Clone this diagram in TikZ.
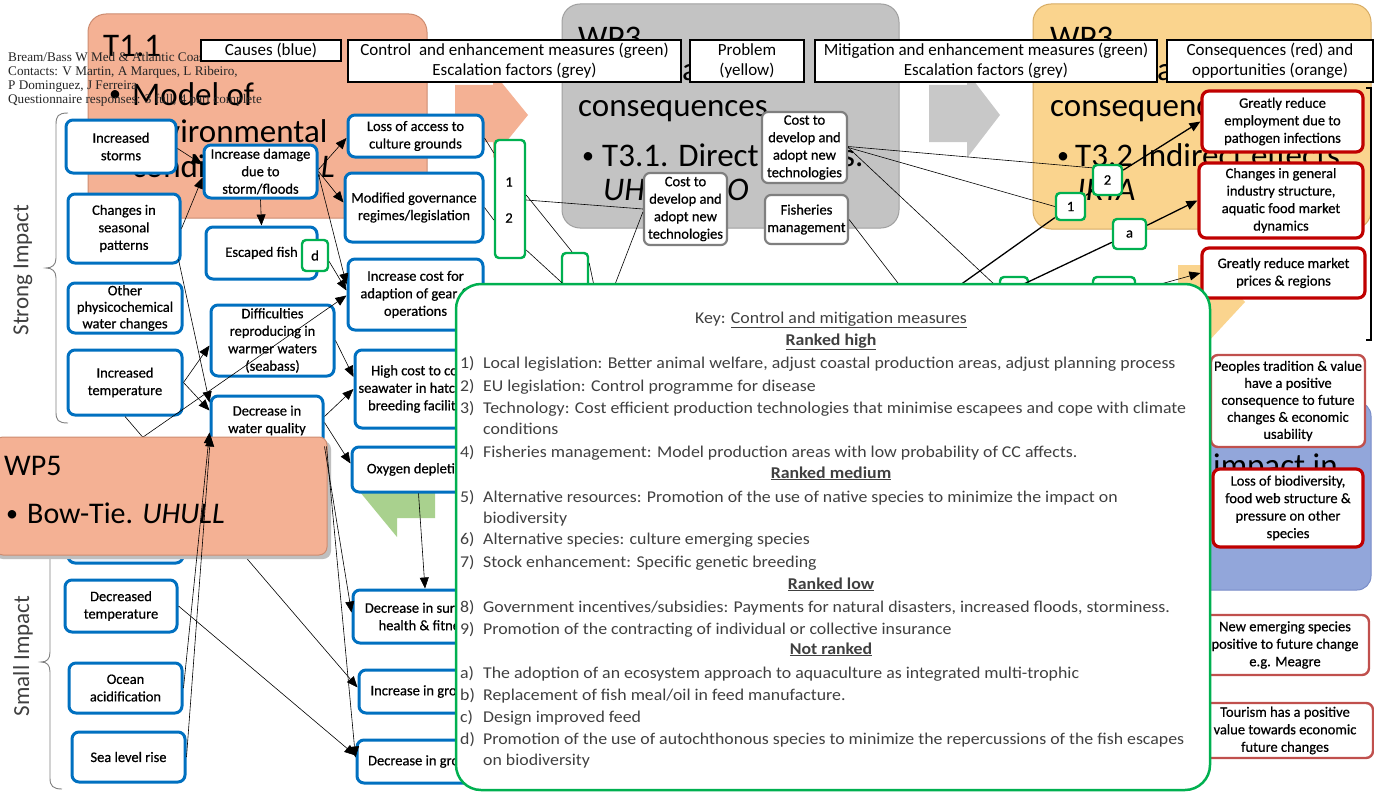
\documentclass[tikz,border=0pt]{standalone}
\usepackage{fontspec}
\setmainfont{Carlito}
\newfontfamily\notefont{Liberation Serif}
\newfontfamily\keyfont[FakeStretch=1.08]{Carlito}
\newfontfamily\nodefont[FakeBold=0.6]{Carlito}
\usetikzlibrary{arrows.meta,calc}
\definecolor{cblue}{RGB}{0,112,192}
\definecolor{cred}{RGB}{192,0,0}
\definecolor{cora}{RGB}{192,80,77}
\definecolor{cgreen}{RGB}{0,176,80}
\definecolor{cgrey}{RGB}{127,127,127}
\definecolor{salmon}{RGB}{244,177,148}
\definecolor{salmonb}{RGB}{205,140,112}
\definecolor{slgrey}{RGB}{195,195,195}
\definecolor{slgreyb}{RGB}{160,160,160}
\definecolor{slora}{RGB}{250,212,142}
\definecolor{slorab}{RGB}{215,172,100}
\definecolor{slblue}{RGB}{146,166,218}
\definecolor{slblueb}{RGB}{120,140,200}
\definecolor{arrgreen}{RGB}{169,209,142}
\definecolor{arrgrey}{RGB}{200,200,200}
\definecolor{keytext}{RGB}{64,64,64}
\definecolor{lightfill}{RGB}{234,242,251}
\begin{document}
\begin{tikzpicture}[x=1pt,y=-1pt,
  nbox/.style={rectangle, rounded corners=7pt, fill=white, align=center, inner sep=1pt, text=black, font=\nodefont\fontsize{14.5}{17.5}\selectfont},
  cause/.style={nbox, draw=cblue, line width=3pt},
  cons/.style={nbox, draw=cred, line width=3.2pt},
  opp/.style={nbox, draw=cora, line width=2.4pt},
  esc/.style={nbox, draw=cgrey, line width=2.2pt, rounded corners=6pt},
  gbox/.style={nbox, draw=cgreen, line width=2.4pt, rounded corners=4pt},
  hdr/.style={rectangle, draw=black, line width=1.6pt, fill=white, align=center, inner sep=0pt, font=\fontsize{17}{20}\selectfont},
  wh/.style 2 args={minimum width=#1pt, minimum height=#2pt},
  conn/.style={draw=black, line width=0.6pt},
  arr/.style={conn, -{Triangle[length=11pt,width=9pt]}},
  thk/.style={draw=black, line width=1.3pt},
  thkarr/.style={thk, -{Triangle[length=11pt,width=9pt]}},
  big/.style={inner sep=0pt, anchor=base west, font=\fontsize{33}{40}\selectfont},
  bul/.style={inner sep=0pt, anchor=base west, font=\fontsize{24}{28}\selectfont},
  note/.style={inner sep=0pt, anchor=base west, font=\notefont\fontsize{13.2}{15}\selectfont, text=black!85},
  keyl/.style={inner sep=0pt, anchor=base west, font=\keyfont\fontsize{16.5}{19}\selectfont, text=keytext},
  keyh/.style={inner sep=0pt, anchor=base, font=\keyfont\fontsize{16.5}{19}\selectfont\bfseries, text=keytext},
  lbl/.style={inner sep=0pt, font=\nodefont\fontsize{14.5}{17}\selectfont},
]
\useasboundingbox (0,0) rectangle (1374,792);
\fill[white] (0,0) rectangle (1374,792);

% ---------- background slides ----------
\draw[fill=salmon, draw=salmonb, line width=1pt, rounded corners=18pt] (88,14) rectangle (427,218);
\fill[salmon] (455,85) -- (493,85) -- (493,72) -- (528,115) -- (493,158) -- (493,142) -- (455,142) -- cycle;
\draw[fill=slgrey, draw=slgreyb, line width=1pt, rounded corners=18pt] (562,4) rectangle (899,228);
\fill[arrgrey] (929,85) -- (967,85) -- (967,72) -- (1000,115) -- (967,158) -- (967,142) -- (929,142) -- cycle;
\draw[fill=slora, draw=slorab, line width=1pt, rounded corners=18pt] (1033,4) rectangle (1371,229);
\draw[fill=slblue, draw=slblueb, line width=1pt, rounded corners=14pt] (1150,402) rectangle (1371,590);
\fill[slora] (1178,265) -- (1205,265) -- (1205,258) -- (1245,302) -- (1207,343) -- (1207,335) -- (1178,335) -- cycle;

% slide texts
\node[big] (t11) at (103,57) {T1.1};
\node[bul] (t11b) at (109,102) {\textbullet};
\node[big] (t11c) at (132,105) {Model of};
\node[big] (t11d) at (132,142) {environmental};
\node[big] (t11e) at (132,177) {conditions.};
\node[big, anchor=base east] (t11f) at (335,177) {\itshape UHULL};
\node[big] (w3a) at (578,49) {WP3};
\node[big] (w3b) at (682,81) {a};
\node[big] (w3c) at (578,117) {consequences};
\node[bul] (w3d) at (582,163) {\textbullet};
\node[big] (w3e) at (602,166) {T3.1. Direct effects.};
\node[big] (w3f) at (603,200) {\itshape UH};
\node[big] (w3g) at (727,200) {\itshape O};
\node[big] (w4a) at (1050,49) {WP3};
\node[big] (w4b) at (1157,81) {a};
\node[big] (w4c) at (1050,117) {consequences};
\node[bul] (w4d) at (1057,163) {\textbullet};
\node[big] (w4e) at (1075,166) {T3.2 Indirect effects.};
\node[big] (w4f) at (1077,200) {\itshape IRTA};
\node[big] (w6a) at (1213,476) {impact in};

% note
\node[note] (n1) at (8,62) {Bream/Bass W Med \& Atlantic Coast};
\node[note] (n2) at (8,76) {Contacts: V Martin, A Marques, L Ribeiro,};
\node[note] (n3) at (8,89) {P Dominguez, J Ferreira};
\node[note] (n4) at (8,103) {Questionnaire responses: 3 full, 4 part complete};

% braces and side labels
\draw[line width=0.9pt, draw=black!50] (68,113) .. controls (58,113) and (56,116) .. (56,125) -- (56,258) .. controls (56,265) and (52,268) .. (46,268) .. controls (52,268) and (56,271) .. (56,278) -- (56,412) .. controls (56,420) and (58,423) .. (68,423);
\draw[line width=0.9pt, draw=black!50] (62,535) .. controls (53,535) and (50,538) .. (50,547) -- (50,652) .. controls (50,659) and (47,662) .. (41,662) .. controls (47,662) and (50,665) .. (50,672) -- (50,778) .. controls (50,786) and (53,789) .. (62,789);
\node[rotate=90, inner sep=0pt, font=\fontsize{23}{27}\selectfont, text=black!75] (strong) at (23,270) {Strong Impact};
\node[rotate=90, inner sep=0pt, font=\fontsize{23}{27}\selectfont, text=black!75] (small) at (23,656) {Small Impact};

% green block shape
\fill[arrgreen] (360,492) -- (435,492) -- (435,518) -- (397,518) -- (397,537) -- cycle;

% ---------- nodes ----------
\node[cause, wh={110}{53}] (storms) at (121,146.5) {Increased\\storms};
\node[cause, wh={112}{69}] (seasonal) at (124,228.5) {Changes in\\seasonal\\patterns};
\node[cause, wh={114}{50}, font=\nodefont\fontsize{14.5}{16.5}\selectfont] (physchem) at (125,308) {Other\\physicochemical\\water changes};
\node[cause, wh={114}{65}] (inctemp) at (125,382.5) {Increased\\temperature};
\node[cause, fill=lightfill, wh={115}{63}] (hidden) at (125.5,531.5) {};
\node[cause, wh={112}{52}] (dectemp) at (121,606) {Decreased\\temperature};
\node[cause, wh={113}{50}] (ocean) at (125.5,688) {Ocean\\acidification};
\node[cause, wh={113}{50}] (sealevel) at (128.5,757) {Sea level rise};

\node[cause, wh={113}{53}] (dmg) at (260.5,171.5) {Increase damage\\due to\\storm/floods};
\node[cause, wh={111}{52}] (escaped) at (261.5,253) {Escaped fish};
\node[gbox, wh={26}{31}] (dbox) at (315,255.5) {d};
\node[cause, wh={123}{71}] (diff) at (272.5,340.5) {Difficulties\\reproducing in\\warmer waters\\(seabass)};
\node[cause, wh={112}{49}] (waterq) at (267,420.5) {Decrease in\\water quality};

\node[cause, wh={135}{42}] (loss) at (415.5,136) {Loss of access to\\culture grounds};
\node[cause, wh={138}{69}] (modgov) at (414,207.5) {Modified governance\\regimes/legislation};
\node[cause, wh={135}{71}] (inccost) at (415.5,294.5) {Increase cost for\\adaption of gear \&\\operations};
\node[cause, wh={130}{78}] (highcost) at (420,389) {High cost to cool\\seawater in hatchery\\breeding facilities};
\node[cause, wh={133}{45}] (oxygen) at (418.5,469.5) {Oxygen depletion};
\node[cause, wh={144}{53}] (decsurv) at (425,616.5) {Decrease in survival,\\health \& fitness};
\node[cause, wh={132}{43}] (incgrowth) at (425,691.5) {Increase in growth};
\node[cause, wh={136}{43}] (decgrowth) at (425,761.5) {Decrease in growth};

\node[esc, wh={83}{72}] (costL) at (685.5,209) {Cost to\\develop and\\adopt new\\technologies};
\node[esc, wh={85}{71}] (costR) at (804.5,147.5) {Cost to\\develop and\\adopt new\\technologies};
\node[esc, wh={83}{49}] (fish) at (806.5,219.5) {Fisheries\\management};

\node[gbox, wh={30}{118}] (g12) at (510,199) {};
\node[lbl] (g12a) at (509,182) {1};
\node[lbl] (g12b) at (509,218) {2};
\node[gbox, wh={26}{60}] (g3) at (575,283) {};
\node[gbox, wh={29}{30}] (g2) at (1107.5,180) {2};
\node[gbox, wh={29}{27}] (g1) at (1070.5,206.5) {1};
\node[gbox, wh={33}{30}] (ga) at (1129.5,234) {a};
\node[gbox, wh={28}{30}] (gk1) at (1014,292) {};
\node[gbox, wh={42}{30}] (gk2) at (1114,292) {};

\node[cons, wh={161}{61}] (employ) at (1282.5,121.5) {Greatly reduce\\employment due to\\pathogen infections};
\node[cons, wh={164}{75}] (changes) at (1281,200.5) {Changes in general\\industry structure,\\aquatic food market\\dynamics};
\node[cons, wh={163}{50}] (market) at (1283.5,273) {Greatly reduce market\\prices \& regions};
\node[cons, wh={150}{78}] (lossbio) at (1288,508) {Loss of biodiversity,\\food web structure \&\\pressure on other\\species};
\node[opp, wh={154}{92}, font=\nodefont\fontsize{14.5}{17}\selectfont] (peoples) at (1288,401) {Peoples tradition \& value\\have a positive\\consequence to future\\changes \& economic\\usability};
\node[opp, wh={168}{60}] (newspec) at (1285,645) {New emerging species\\positive to future change\\e.g. Meagre};
\node[opp, wh={176}{55}] (tourism) at (1285,730.5) {Tourism has a positive\\value towards economic\\future changes};

% headers
\node[hdr, wh={140}{21}] (hcauses) at (271,50.5) {Causes (blue)};
\node[hdr, wh={333}{42}] (hcontrol) at (514.5,61) {Control~ and enhancement measures (green)\\Escalation factors (grey)};
\node[hdr, wh={114}{42}] (hproblem) at (747,61) {Problem\\(yellow)};
\node[hdr, wh={342}{42}] (hmitig) at (986,61) {Mitigation and enhancement measures (green)\\Escalation factors (grey)};
\node[hdr, wh={206}{42}] (hcons) at (1270,61) {Consequences (red) and\\opportunities (orange)};
\draw[line width=1.8pt] (1366,88) -- (1371,88) -- (1371,340) -- (1366,340);

% ---------- connectors under WP5 ----------
\coordinate (h1) at (100,467);
\draw[arr] (h1) -- ($(inccost.west)+(0,1)$);
\draw[arr] (inctemp.south) -- ($(incgrowth.west)+(0,-4)$);

% ---------- WP5 ----------
\fill[black!25, rounded corners=8pt] (-5,441) rectangle (331,559);
\draw[fill=salmon, draw=salmonb, line width=1pt, rounded corners=8pt] (-5,437) rectangle (327,555);
\node[big, font=\fontsize{30}{36}\selectfont] (wp5a) at (4,475) {WP5};
\node[bul] (wp5b) at (6,521) {\textbullet};
\node[big, font=\fontsize{30}{36}\selectfont] (wp5c) at (27,523) {Bow-Tie. \textit{UHULL}};

% ---------- connectors ----------
\draw[arr] ($(storms.east)+(0,2)$) -- ($(dmg.west)+(0,-7)$);
\draw[arr] (seasonal.east) -- ($(dmg.west)+(0,6)$);
\draw[arr] ($(seasonal.south east)+(-3,-5)$) -- ($(waterq.north west)+(0,8)$);
\draw[arr] ($(dmg.east)+(0,-2)$) -- ($(loss.west)+(0,2)$);
\draw[arr] (dmg.east) -- ($(modgov.west)+(0,-5)$);
\draw[arr] ($(dmg.east)+(0,3)$) -- ($(inccost.west)+(0,-10)$);
\draw[arr] (dmg.south) -- (escaped.north);
\draw[arr] ($(dbox.east)+(0,6)$) -- ($(inccost.west)+(0,-4)$);
\draw[arr] (inctemp.east) -- ($(diff.west)+(0,5)$);
\draw[arr] (inctemp.east) -- ($(waterq.north west)+(0,16)$);
\draw[arr] (diff.east) -- ($(highcost.west)+(0,-12)$);
\draw[arr] ($(waterq.east)+(0,-4)$) -- (highcost.west);
\draw[arr] ($(waterq.east)+(0,2)$) -- ($(oxygen.west)+(0,-6)$);
\draw[arr] (waterq.south east) -- ($(decsurv.west)+(0,-4)$);
\draw[arr] ($(waterq.south east)+(2,0)$) -- ($(decgrowth.west)+(0,-4)$);
\draw[arr] (oxygen.south) -- (decsurv.north);
\draw[arr] (dectemp.east) -- ($(decgrowth.west)+(0,-6)$);
\draw[arr] (ocean.east) -- ($(waterq.south west)+(0,-14)$);
\draw[arr] (sealevel.east) -- ($(waterq.south west)+(1,-11)$);

\draw[conn] ($(loss.east)+(0,2)$) -- ($(g12.west)+(0,-46)$);
\draw[conn] (modgov.east) -- ($(g12.west)+(0,21)$);
\draw[conn] ($(g12.east)+(0,1)$) -- (costL.west);
\draw[conn] ($(g12.east)+(0,-4)$) -- ($(g3.north)+(-3,0)$);
\coordinate (u1) at (572,292);
\draw[conn] ($(g12.east)+(0,51)$) -- (u1);
\coordinate (u2) at (609,300);
\draw[conn] ($(costL.west)+(0,3)$) -- (u2);
\coordinate (u8) at (597,300);
\draw[conn] ($(g3.east)+(0,-20)$) -- (u8);
\coordinate (u3) at (1011,300);
\draw[conn] (costR.east) -- (u3);
\draw[conn] ($(costR.east)+(0,-1)$) -- ($(g2.north west)+(0,4)$);
\draw[conn] (costR.east) -- (g1.west);
\coordinate (u4) at (911,300);
\draw[conn] (fish.east) -- (u4);
\coordinate (u5) at (939,300);
\draw[thk] (u5) -- (g1);
\draw[thk] (g1) -- (g2);
\draw[thkarr] (g2) -- (employ.west);
\coordinate (u6) at (990,300);
\draw[thk] (u6) -- (ga);
\draw[thkarr] (ga) -- (changes.west);
\coordinate (u7) at (1150,287);
\draw[arr] (u7) -- (market.west);

% ---------- key ----------
\draw[draw=cgreen, fill=white, line width=2.5pt, rounded corners=25pt] (456,284) rectangle (1210,790);
\node[keyl, anchor=base] (kt) at (831,323) {Key: \underline{Control and mitigation measures}};
\node[keyh] (kh1) at (831,345) {\underline{Ranked high}};
\node[keyl] (k1n) at (460,368) {1)}; \node[keyl] (k1) at (483,368) {Local legislation: Better animal welfare, adjust coastal production areas, adjust planning process};
\node[keyl] (k2n) at (460,391) {2)}; \node[keyl] (k2) at (483,391) {EU legislation: Control programme for disease};
\node[keyl] (k3n) at (460,413) {3)}; \node[keyl] (k3) at (483,413) {Technology: Cost efficient production technologies that minimise escapees and cope with climate};
\node[keyl] (k3b) at (483,434) {conditions};
\node[keyl] (k4n) at (460,457) {4)}; \node[keyl] (k4) at (483,457) {Fisheries management: Model production areas with low probability of CC affects.};
\node[keyh] (kh2) at (831,478) {\underline{Ranked medium}};
\node[keyl] (k5n) at (460,502) {5)}; \node[keyl] (k5) at (483,502) {Alternative resources: Promotion of the use of native species to minimize the impact on};
\node[keyl] (k5b) at (483,523) {biodiversity};
\node[keyl] (k6n) at (460,544) {6)}; \node[keyl] (k6) at (483,544) {Alternative species: culture emerging species};
\node[keyl] (k7n) at (460,567) {7)}; \node[keyl] (k7) at (483,567) {Stock enhancement: Specific genetic breeding};
\node[keyh] (kh3) at (831,589) {\underline{Ranked low}};
\node[keyl] (k8n) at (460,612) {8)}; \node[keyl] (k8) at (483,612) {Government incentives/subsidies: Payments for natural disasters, increased floods, storminess.};
\node[keyl] (k9n) at (460,634) {9)}; \node[keyl] (k9) at (483,634) {Promotion of the contracting of individual or collective insurance};
\node[keyh] (kh4) at (831,654) {\underline{Not ranked}};
\node[keyl] (kan) at (460,678) {a)}; \node[keyl] (ka) at (483,678) {The adoption of an ecosystem approach to aquaculture as integrated multi-trophic};
\node[keyl] (kbn) at (460,700) {b)}; \node[keyl] (kb) at (483,700) {Replacement of fish meal/oil in feed manufacture.};
\node[keyl] (kcn) at (460,722) {c)}; \node[keyl] (kc) at (483,722) {Design improved feed};
\node[keyl] (kdn) at (460,744) {d)}; \node[keyl] (kd) at (483,744) {Promotion of the use of autochthonous species to minimize the repercussions of the fish escapes};
\node[keyl] (kdb) at (483,765) {on biodiversity};
\end{tikzpicture}
\end{document}
